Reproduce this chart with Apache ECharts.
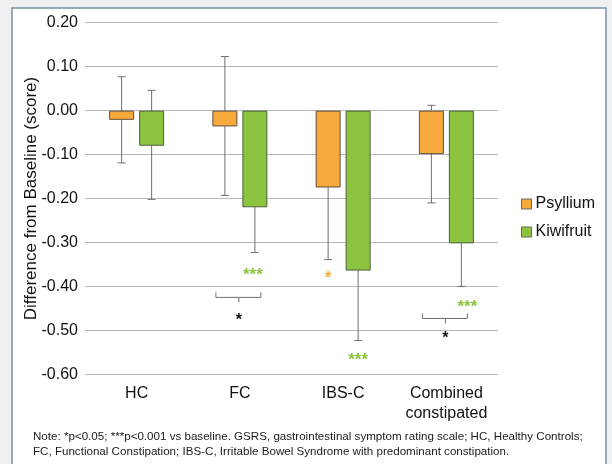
<!DOCTYPE html>
<html>
<head>
<meta charset="utf-8">
<script src="https://cdn.jsdelivr.net/npm/echarts@6/dist/echarts.min.js"></script>
<style>html,body{margin:0;padding:0;background:#eef0f2;}#c{width:612px;height:464px;}</style>
</head>
<body>
<div id="c"></div>
<script>
// ---- data ----
var categories = ['HC', 'FC', 'IBS-C', 'Combined\nconstipated'];
var seriesNames = ['Psyllium', 'Kiwifruit'];
var psyllium = [-0.021, -0.036, -0.175, -0.099];
var psylliumErrLow = [-0.119, -0.193, -0.339, -0.210];
var psylliumErrHigh = [0.077, 0.123, -0.011, 0.012];
var kiwifruit = [-0.080, -0.220, -0.364, -0.302];
var kiwifruitErrLow = [-0.202, -0.323, -0.523, -0.400];
var kiwifruitErrHigh = [0.046, -0.117, -0.205, -0.204];
var yTicks = [-0.6, -0.5, -0.4, -0.3, -0.2, -0.1, 0, 0.1, 0.2];
// significance: [categoryIndex, seriesIndex(0 psyllium,1 kiwi), yValue, label]
var sigMarks = [[1, 1, -0.368, '***'], [2, 0, -0.375, '*'], [2, 1, -0.562, '***'], [3, 1, -0.440, '***']];
// between-group comparisons: [categoryIndex, bracketY, starY, label]
var pairMarks = [[1, -0.425, -0.470, '*'], [3, -0.473, -0.512, '*']];
var footnote = ['Note: *p<0.05; ***p<0.001 vs baseline. GSRS, gastrointestinal symptom rating scale; HC, Healthy Controls;',
  'FC, Functional Constipation; IBS-C, Irritable Bowel Syndrome with predominant constipation.'];

// ---- styles ----
var COLORS = ['#F8A93C', '#8CC43F'];
var BAR_W = 25, BAR_GAP = 5;
var FONT = '"Liberation Sans", Arial, sans-serif';
function off(s) { return (s === 0 ? -1 : 1) * (BAR_W + BAR_GAP) / 2; }

var errData = [];
for (var i = 0; i < categories.length; i++) {
  errData.push([i, psylliumErrLow[i], psylliumErrHigh[i], 0]);
  errData.push([i, kiwifruitErrLow[i], kiwifruitErrHigh[i], 1]);
}

var chart = echarts.init(document.getElementById('c'));
chart.setOption({
  backgroundColor: '#eef0f2',
  animation: false,
  graphic: [
    { type: 'rect', z: -10, shape: { x: 12, y: 8, width: 594, height: 470 },
      style: { fill: '#ffffff', stroke: '#7d8fa2', lineWidth: 1.5 } },
    { type: 'text', left: 33, top: 429, z: 10,
      style: { text: footnote.join('\n'), font: '11.6px ' + FONT, fill: '#1a1a1a', lineHeight: 15 } }
  ],
  grid: { left: 85, right: 114, top: 22.7, bottom: 89.7 },
  legend: {
    orient: 'vertical', left: 516, top: 190, itemWidth: 10, itemHeight: 10, itemGap: 10, icon: 'rect',
    data: seriesNames.map(function (n, k) { return { name: n, itemStyle: { color: COLORS[k], borderColor: '#666', borderWidth: 1 } }; }),
    textStyle: { fontSize: 16, fontFamily: FONT, color: '#111', lineHeight: 18, padding: [0, 0, 0, -1] }
  },
  xAxis: {
    type: 'category', data: categories,
    axisLine: { show: false }, axisTick: { show: false },
    axisLabel: { fontSize: 16, fontFamily: FONT, color: '#111', margin: 9, lineHeight: 20, interval: 0 }
  },
  yAxis: {
    type: 'value', min: yTicks[0], max: yTicks[yTicks.length - 1], interval: 0.1,
    name: 'Difference from Baseline (score)', nameLocation: 'middle', nameGap: 45, nameMoveOverlap: false,
    nameTextStyle: { fontSize: 17, fontFamily: FONT, color: '#111' },
    axisLine: { show: false }, axisTick: { show: false },
    axisLabel: { fontSize: 16, fontFamily: FONT, color: '#111', margin: 7,
      formatter: function (v) { return (Math.abs(v) < 1e-9 ? 0 : v).toFixed(2); } },
    splitLine: { lineStyle: { color: '#b8b8b8', width: 1 } }
  },
  series: [
    { name: seriesNames[0], type: 'bar', data: psyllium, barWidth: BAR_W, barGap: (BAR_GAP / BAR_W * 100) + '%', z: 3,
      itemStyle: { color: COLORS[0], borderColor: '#5e5040', borderWidth: 1 } },
    { name: seriesNames[1], type: 'bar', data: kiwifruit, barWidth: BAR_W, z: 3,
      itemStyle: { color: COLORS[1], borderColor: '#4f5f40', borderWidth: 1 } },
    { type: 'custom', z: 1, data: errData, silent: true,
      renderItem: function (params, api) {
        var s = api.value(3);
        var lo = api.coord([api.value(0), api.value(1)]);
        var hi = api.coord([api.value(0), api.value(2)]);
        var x = lo[0] + off(s);
        var st = { stroke: '#707070', lineWidth: 1 };
        return { type: 'group', children: [
          { type: 'line', shape: { x1: x, y1: lo[1], x2: x, y2: hi[1] }, style: st },
          { type: 'line', shape: { x1: x - 4, y1: lo[1], x2: x + 4, y2: lo[1] }, style: st },
          { type: 'line', shape: { x1: x - 4, y1: hi[1], x2: x + 4, y2: hi[1] }, style: st }
        ] };
      } },
    { type: 'custom', z: 5, data: sigMarks, silent: true,
      renderItem: function (params, api) {
        var s = api.value(1);
        var p = api.coord([api.value(0), api.value(2)]);
        var extra = (params.dataIndex === 3) ? 6 : (params.dataIndex === 0 ? -2 : 0);
        return { type: 'text', x: p[0] + off(s) + extra, y: p[1] + 3,
          style: { text: sigMarks[params.dataIndex][3], fill: COLORS[s], font: 'bold 17px ' + FONT, align: 'center', verticalAlign: 'middle' } };
      } },
    { type: 'custom', z: 5, data: pairMarks, silent: true,
      renderItem: function (params, api) {
        var p = api.coord([api.value(0), api.value(1)]);
        var q = api.coord([api.value(0), api.value(2)]);
        var cx = p[0] - 1, y = p[1];
        var st = { stroke: '#707070', lineWidth: 1 };
        return { type: 'group', children: [
          { type: 'line', shape: { x1: cx - 23, y1: y, x2: cx + 22, y2: y }, style: st },
          { type: 'line', shape: { x1: cx - 23, y1: y, x2: cx - 23, y2: y - 5 }, style: st },
          { type: 'line', shape: { x1: cx + 22, y1: y, x2: cx + 22, y2: y - 5 }, style: st },
          { type: 'line', shape: { x1: cx, y1: y, x2: cx, y2: y + 5 }, style: st },
          { type: 'text', x: cx, y: q[1] + 3, style: { text: pairMarks[params.dataIndex][3], fill: '#111', font: 'bold 16px ' + FONT, align: 'center', verticalAlign: 'middle' } }
        ] };
      } }
  ]
});
</script>
</body>
</html>
